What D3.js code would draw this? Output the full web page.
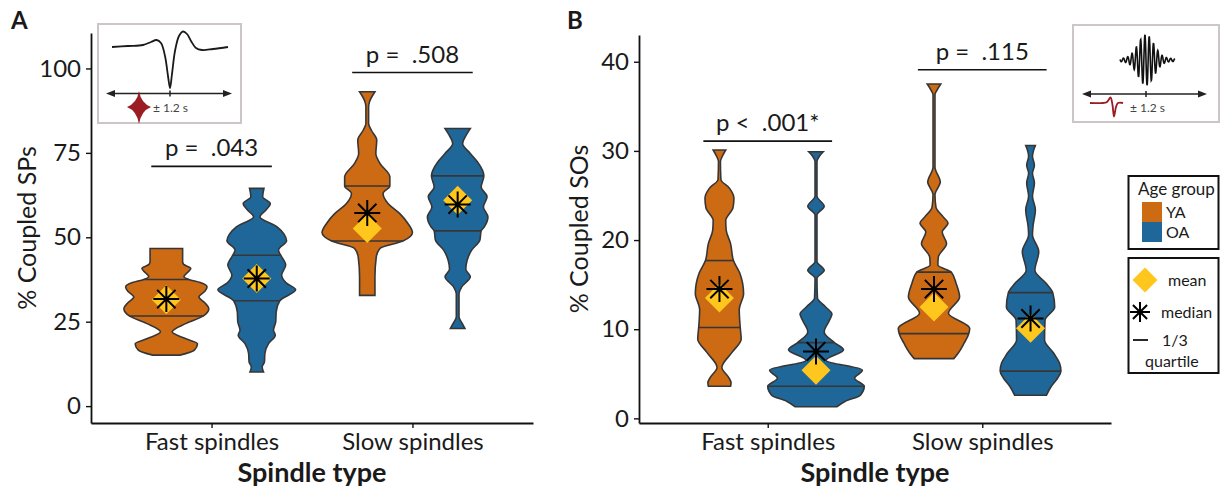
<!DOCTYPE html>
<html>
<head>
<meta charset="utf-8">
<script src="https://cdn.jsdelivr.net/npm/d3@7"></script>
<style>
body { margin: 0; background: #fff; }
text { font-family: "Lato", "Open Sans", sans-serif; fill: #1a1a1a; }
</style>
</head>
<body>
<div id="chart"></div>
<script>
const categories = ["Fast spindles", "Slow spindles"];
const groups = ["YA", "OA"];
const groupColors = ["#CD6A14", "#1F6798"];

/* violin outlines: [value, relative width] */
const spFastYA = [[15.1,0.30],[16.6,0.62],[18.5,0.69],[20.0,0.42],[22.0,0.13],[24.5,0.44],[26.7,0.82],[28.9,0.94],[30.6,0.85],[32.3,0.72],[34.0,0.85],[35.3,0.9],[36.6,0.75],[37.5,0.5],[38.3,0.39],[40.8,0.54],[42.0,0.38],[42.8,0.36],[46.7,0.36]];
const spFastOA = [[10.1,0.15],[11.6,0.12],[13.1,0.17],[15.6,0.18],[18.5,0.26],[21.0,0.41],[22.5,0.37],[25.0,0.42],[27.9,0.43],[31.2,0.51],[34.5,0.86],[36.5,0.65],[38.8,0.55],[41.8,0.64],[44.7,0.53],[46.2,0.48],[49.0,0.66],[51.0,0.6],[53.1,0.45],[56.1,0.07],[58.0,0.2],[60.0,0.30],[62.0,0.13],[64.5,0.16]];
const spSlowYA = [[32.8,0.17],[38.3,0.17],[44.2,0.2],[46.7,0.28],[48.9,0.79],[51.4,1.0],[54.1,0.9],[57.0,0.72],[60.0,0.46],[63.0,0.35],[65.2,0.5],[67.9,0.5],[71.9,0.28],[74.8,0.19],[78.8,0.21],[81.7,0.09],[83.7,0.03],[88.6,0.03],[90.1,0.05],[93.1,0.17]];
const spSlowOA = [[23.0,0.16],[24.5,0.1],[26.4,0.03],[33.3,0.03],[35.3,0.09],[38.3,0.28],[40.5,0.18],[43.2,0.21],[46.2,0.31],[49.1,0.49],[51.9,0.52],[53.1,0.59],[56.0,0.67],[59.0,0.57],[62.0,0.65],[64.9,0.52],[68.2,0.58],[72.3,0.44],[74.8,0.28],[77.8,0.11],[79.8,0.17],[82.2,0.28]];

const spMeanYA = [31.5, 52.6];
const spMeanOA = [37.8, 61.0];
const spMedianYA = [31.7, 57.2];
const spMedianOA = [37.8, 59.7];
const spQuartYA = [[26.7, 37.5], [48.9, 65.2]];
const spQuartOA = [[31.2, 44.7], [51.9, 68.2]];
const spTicks = [0, 25, 50, 75, 100];
const spPvals = ["p =  .043", "p =  .508"];
const spBracket = [71.0, 98.8];

const soFastYA = [[3.6,0.23],[4.0,0.24],[4.6,0.19],[5.7,0.05],[7.4,0.26],[8.9,0.45],[10.2,0.43],[12.2,0.41],[14.0,0.5],[16.3,0.42],[17.7,0.29],[19.6,0.23],[21.1,0.14],[22.2,0.13],[23.6,0.28],[24.7,0.3],[25.8,0.21],[26.8,0.03],[28.8,0.02],[29.4,0.06],[30.1,0.13]];
const soFastOA = [[1.3,0.43],[1.9,0.6],[2.6,0.92],[3.6,1.0],[4.5,0.8],[5.4,0.96],[6.5,0.21],[7.7,0.57],[8.5,0.38],[9.7,0.17],[10.9,0.27],[11.7,0.33],[12.5,0.2],[13.5,0.03],[15.7,0.02],[16.6,0.17],[17.6,0.02],[22.8,0.02],[23.8,0.17],[24.9,0.02],[28.8,0.02],[29.4,0.07],[29.9,0.15]];
const soSlowYA = [[6.7,0.41],[7.3,0.5],[8.4,0.62],[9.5,0.72],[10.1,0.74],[11.8,0.3],[13.6,0.53],[15.1,0.46],[16.4,0.36],[17.2,0.08],[18.1,0.09],[19.6,0.26],[20.9,0.17],[21.9,0.29],[22.6,0.19],[23.7,0.04],[25.1,0.02],[26.5,0.13],[28.2,0.02],[36.3,0.02],[36.8,0.06],[37.5,0.14]];
const soSlowOA = [[2.6,0.33],[3.6,0.43],[4.5,0.56],[5.3,0.63],[6.2,0.6],[7.3,0.48],[8.8,0.29],[11.0,0.3],[12.5,0.5],[14.1,0.46],[15.1,0.33],[16.6,0.09],[18.7,0.17],[20.6,0.04],[21.5,0.05],[23.4,0.1],[24.9,0.04],[26.4,0.08],[27.5,0.04],[28.4,0.08],[29.4,0.04],[30.0,0.06],[30.6,0.1]];

const soMeanYA = [13.5, 12.5];
const soMeanOA = [5.4, 10.1];
const soMedianYA = [14.5, 14.5];
const soMedianOA = [7.5, 11.2];
const soQuartYA = [[10.2, 17.7], [9.5, 16.4]];
const soQuartOA = [[3.6, 8.5], [5.3, 14.1]];
const soTicks = [0, 10, 20, 30, 40];
const soPvals = ["p <  .001*", "p =  .115"];
const soBracket = [31.1, 39.1];

const W = 1222, H = 492;
const svg = d3.select("#chart").append("svg")
    .attr("width", W)
    .attr("height", H);

function widthAt(outline, v) {
    for (let i = 1; i < outline.length; i++) {
        if (v <= outline[i][0]) {
            const a = outline[i - 1], b = outline[i];
            return a[1] + (b[1] - a[1]) * (v - a[0]) / (b[0] - a[0]);
        }
    }
    return outline[outline.length - 1][1];
}

function diamond(cx, cy, r) {
    return `M${cx},${cy - r}L${cx + r},${cy}L${cx},${cy + r}L${cx - r},${cy}Z`;
}
function asterisk(cx, cy, r) {
    return [0, 45, 90, 135].map(a => {
        const dx = r * Math.cos(a * Math.PI / 180), dy = r * Math.sin(a * Math.PI / 180);
        return `M${cx - dx},${cy - dy}L${cx + dx},${cy + dy}`;
    }).join("");
}

function drawPanel(p) {
    const g = svg.append("g");
    const x = d3.scalePoint().domain(categories).range([p.left, p.right]).padding(0.6);
    const y = d3.scaleLinear().domain(p.yDomain).range([423, p.top]);
    const half = 0.225 * x.step();
    const dodge = d3.scaleOrdinal().domain(groups).range([-half, half]);
    const w = d3.scaleLinear().domain([0, 1]).range([0, half]);

    // p-value brackets
    categories.forEach((c, i) => {
        g.append("line")
            .attr("x1", x(c) - 0.3 * x.step()).attr("x2", x(c) + 0.3 * x.step())
            .attr("y1", y(p.bracket[i])).attr("y2", y(p.bracket[i]))
            .attr("stroke", "#111").attr("stroke-width", 1.7);
        g.append("text")
            .attr("x", x(c)).attr("y", y(p.bracket[i]) - 10)
            .attr("text-anchor", "middle")
            .style("font-size", "24px").style("white-space", "pre")
            .text(p.pvals[i]);
    });

    // violins
    p.violins.forEach((row, ci) => row.forEach((outline, gi) => {
        const cx = x(categories[ci]) + dodge(groups[gi]);
        const area = d3.area()
            .curve(d3.curveMonotoneY)
            .y(d => y(d[0]))
            .x0(d => cx - w(d[1]))
            .x1(d => cx + w(d[1]));
        g.append("path").datum(outline)
            .attr("d", area)
            .attr("fill", groupColors[gi])
            .attr("stroke", "#363636")
            .attr("stroke-width", 1.6);
        p.quart[gi][ci].forEach(q => {
            const hw = w(widthAt(outline, q));
            g.append("line")
                .attr("x1", cx - hw).attr("x2", cx + hw)
                .attr("y1", y(q)).attr("y2", y(q))
                .attr("stroke", "#363636").attr("stroke-width", 1.6);
        });
        g.append("path")
            .attr("d", diamond(cx, y(p.mean[gi][ci]), 14.5))
            .attr("fill", "#FFC61E");
        g.append("path")
            .attr("d", asterisk(cx, y(p.median[gi][ci]), 13))
            .attr("stroke", "#000").attr("stroke-width", 2).attr("fill", "none");
    }));

    // axes
    const yAxis = g.append("g")
        .attr("transform", `translate(${p.left},0)`)
        .call(d3.axisLeft(y).tickValues(p.ticks).tickSize(5).tickSizeOuter(0).tickPadding(5));
    const xAxis = g.append("g")
        .attr("transform", "translate(0,423)")
        .call(d3.axisBottom(x).tickSize(5).tickSizeOuter(0).tickPadding(5));
    [yAxis, xAxis].forEach(a => {
        a.select(".domain").attr("stroke", "#111").attr("stroke-width", 1.8);
        a.selectAll(".tick line").attr("stroke", "#111").attr("stroke-width", 1.4);
        a.selectAll(".tick text").attr("fill", "#1a1a1a").style("font-size", "24px")
            .style("font-family", "Lato, sans-serif");
    });

    g.append("text")
        .attr("transform", `translate(${p.titleX},${(423 + p.top) / 2}) rotate(-90)`)
        .attr("text-anchor", "middle")
        .style("font-size", "25px")
        .text(p.yTitle);
    g.append("text")
        .attr("x", (p.left + p.right) / 2).attr("y", 482)
        .attr("text-anchor", "middle")
        .style("font-size", "27px").style("font-weight", "bold")
        .text("Spindle type");
    g.append("text")
        .attr("x", p.letterX).attr("y", 29)
        .style("font-size", "24px").style("font-weight", "bold")
        .text(p.letter);
}

drawPanel({
    letter: "A", letterX: 11, left: 91, right: 533, top: 33, yDomain: [-5.0, 110.5],
    titleX: 36, yTitle: "% Coupled SPs", ticks: spTicks,
    violins: [[spFastYA, spFastOA], [spSlowYA, spSlowOA]],
    mean: [spMeanYA, spMeanOA], median: [spMedianYA, spMedianOA],
    quart: [spQuartYA, spQuartOA], pvals: spPvals, bracket: spBracket
});
drawPanel({
    letter: "B", letterX: 567, left: 639, right: 1111, top: 35, yDomain: [-0.52, 43.0],
    titleX: 588, yTitle: "% Coupled SOs", ticks: soTicks,
    violins: [[soFastYA, soFastOA], [soSlowYA, soSlowOA]],
    mean: [soMeanYA, soMeanOA], median: [soMedianYA, soMedianOA],
    quart: [soQuartYA, soQuartOA], pvals: soPvals, bracket: soBracket
});

/* inset icons */
function arrowLine(g, x1, x2, yy, tickX) {
    g.append("line").attr("x1", x1 + 4).attr("x2", x2 - 4).attr("y1", yy).attr("y2", yy)
        .attr("stroke", "#222").attr("stroke-width", 1.3);
    g.append("path").attr("d", `M${x1},${yy}L${x1 + 9},${yy - 3.5}L${x1 + 9},${yy + 3.5}Z`).attr("fill", "#222");
    g.append("path").attr("d", `M${x2},${yy}L${x2 - 9},${yy - 3.5}L${x2 - 9},${yy + 3.5}Z`).attr("fill", "#222");
    g.append("line").attr("x1", tickX).attr("x2", tickX).attr("y1", yy - 3).attr("y2", yy + 3)
        .attr("stroke", "#222").attr("stroke-width", 1.5);
}

const insetA = svg.append("g").attr("transform", "translate(98,24)");
insetA.append("rect").attr("width", 143).attr("height", 99)
    .attr("fill", "#fff").attr("stroke", "#cdc6c6").attr("stroke-width", 2);
const soShape = [[14,23],[30,22],[45,21],[53,18],[58.5,16],[63,19],[67,32],[70,52],[72,64],[74,50],[77,27],[81,12],[85,7.5],[89,10],[93,17],[98,24],[104,26],[115,25],[130,23]];
insetA.append("path").datum(soShape)
    .attr("d", d3.line().curve(d3.curveCatmullRom))
    .attr("fill", "none").attr("stroke", "#1a1a1a").attr("stroke-width", 1.8);
arrowLine(insetA, 8, 134, 69.5, 72);
insetA.append("path")
    .attr("d", "M41,67 Q43,79 53,83 Q43,87 41,100 Q39,87 29,83 Q39,79 41,67Z")
    .attr("fill", "#9B1C22");
insetA.append("text").attr("x", 55).attr("y", 87.5)
    .style("font-size", "12px").style("fill", "#444").text("\u00b1 1.2 s");

const insetB = svg.append("g").attr("transform", "translate(1073,25)");
insetB.append("rect").attr("width", 146).attr("height", 97)
    .attr("fill", "#fff").attr("stroke", "#cdc6c6").attr("stroke-width", 2);
const spindleX = d3.range(47, 102, 0.25);
const spindleShape = spindleX.map(t => {
    const u = t - 73;
    const env = 1.5 + 24 * Math.exp(-(u * u) / (2 * 8 * 8));
    return [t, 35 + env * Math.sin(2 * Math.PI * u / 4.3)];
});
insetB.append("path").datum(spindleShape)
    .attr("d", d3.line())
    .attr("fill", "none").attr("stroke", "#111").attr("stroke-width", 1.6);
arrowLine(insetB, 9, 134, 69, 73);
const redSO = [[17,78],[30,78],[34,77],[37.5,72.5],[39.5,80],[41,91.5],[43,82],[45,78],[50,78]];
insetB.append("path").datum(redSO)
    .attr("d", d3.line().curve(d3.curveCatmullRom))
    .attr("fill", "none").attr("stroke", "#9B1C22").attr("stroke-width", 1.8);
insetB.append("text").attr("x", 57).attr("y", 86.5)
    .style("font-size", "12px").style("fill", "#444").text("\u00b1 1.2 s");

/* legends */
const leg = svg.append("g");
leg.append("rect").attr("x", 1128.5).attr("y", 176).attr("width", 90).attr("height", 73)
    .attr("fill", "#fff").attr("stroke", "#111").attr("stroke-width", 2);
leg.append("text").attr("x", 1138).attr("y", 195).style("font-size", "17px").text("Age group");
groups.forEach((gName, i) => {
    leg.append("rect").attr("x", 1142).attr("y", 202 + i * 20).attr("width", 20).attr("height", 20)
        .attr("fill", groupColors[i]);
    leg.append("text").attr("x", 1166).attr("y", 218 + i * 20).style("font-size", "16px").text(gName);
});
leg.append("rect").attr("x", 1128.5).attr("y", 258).attr("width", 90).attr("height", 115)
    .attr("fill", "#fff").attr("stroke", "#111").attr("stroke-width", 2);
leg.append("path").attr("d", diamond(1145, 280, 12.5)).attr("fill", "#FFC61E");
leg.append("text").attr("x", 1168).attr("y", 286).style("font-size", "16px").text("mean");
leg.append("path").attr("d", asterisk(1140, 312, 10))
    .attr("stroke", "#000").attr("stroke-width", 2).attr("fill", "none");
leg.append("text").attr("x", 1161).attr("y", 318).style("font-size", "16px").text("median");
leg.append("line").attr("x1", 1133).attr("x2", 1148).attr("y1", 340).attr("y2", 340)
    .attr("stroke", "#111").attr("stroke-width", 1.8);
leg.append("text").attr("x", 1162).attr("y", 346).style("font-size", "16px").text("1/3");
leg.append("text").attr("x", 1145).attr("y", 367).style("font-size", "16px").text("quartile");
</script>
</body>
</html>
